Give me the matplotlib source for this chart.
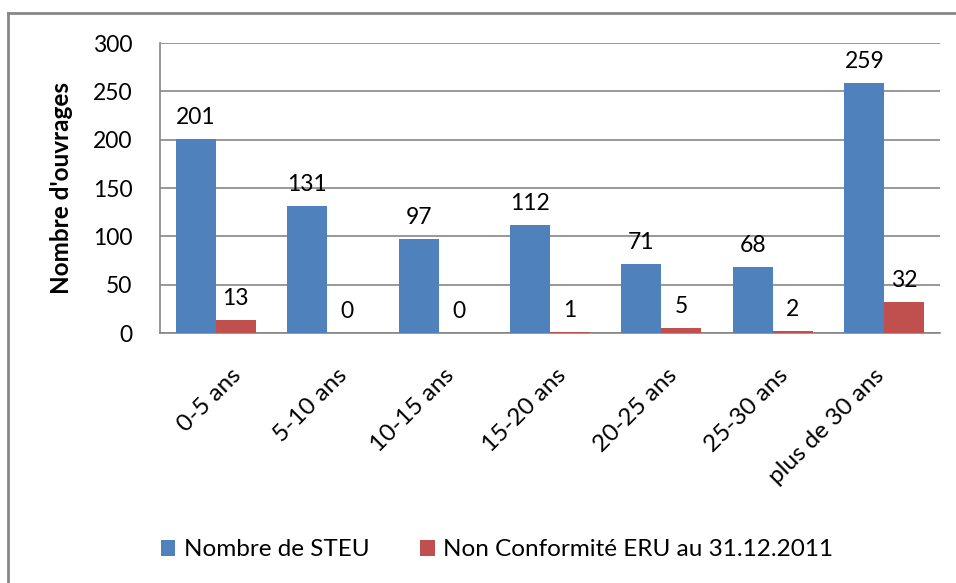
import matplotlib.pyplot as plt
import matplotlib.transforms as mtransforms
from matplotlib.lines import Line2D
from matplotlib.textpath import TextPath
from matplotlib.font_manager import FontProperties
import numpy as np

# --------------------------
# DATA
# --------------------------
categories = ["0-5 ans", "5-10 ans", "10-15 ans", "15-20 ans",
              "20-25 ans", "25-30 ans", "plus de 30 ans"]
nb_steu = [201, 131, 97, 112, 71, 68, 259]
non_conformite = [13, 0, 0, 1, 5, 2, 32]

series_names = ["Nombre de STEU", "Non Conformité ERU au 31.12.2011"]
y_ticks = [0, 50, 100, 150, 200, 250, 300]

BLUE = "#4F81BD"
RED = "#C0504D"
GRID = "#868686"
FONT = "Lato"
DPI = 100

plt.rcParams["font.family"] = [FONT, "DejaVu Sans"]

fig = plt.figure(figsize=(9.56, 5.83), dpi=DPI)
ax = fig.add_axes([0.1674, 0.4288, 0.8159, 0.4974])

x = np.arange(len(categories))
w = 0.359
bars1 = ax.bar(x - w / 2, nb_steu, w, color=BLUE, label=series_names[0], zorder=3)
bars2 = ax.bar(x + w / 2, non_conformite, w, color=RED, label=series_names[1], zorder=3)

# value labels above each bar
for bars in (bars1, bars2):
    for b in bars:
        h = b.get_height()
        ax.annotate(f"{int(h)}", (b.get_x() + b.get_width() / 2, h),
                    xytext=(0, 8), textcoords="offset points",
                    ha="center", va="bottom", fontsize=16.5)

ax.set_xlim(-0.5, len(categories) - 0.5)
ax.set_ylim(0, 300)
ax.set_yticks(y_ticks)
ax.tick_params(axis="y", length=0, pad=20, labelsize=16.5)
ax.yaxis.grid(True, color=GRID, linewidth=1.2, zorder=0)
ax.set_axisbelow(True)

# rotated category labels, shifted left as they get longer
CAT_FS = 17.5
ax.set_xticks(x)
ax.set_xticklabels([])
ax.tick_params(axis="x", length=0)
fp = FontProperties(family=FONT, size=CAT_FS)
for xi, lab in zip(x, categories):
    L = TextPath((0, 0), lab, prop=fp).get_extents().width * DPI / 72
    dx = 42 - 0.354 * L
    off = mtransforms.ScaledTranslation(dx / DPI, -32 / DPI, fig.dpi_scale_trans)
    ax.text(xi, 0, lab, rotation=45, ha="right", va="top", rotation_mode="anchor",
            fontsize=CAT_FS, transform=ax.get_xaxis_transform() + off)

for side in ("top", "right"):
    ax.spines[side].set_visible(False)
for side in ("left", "bottom"):
    ax.spines[side].set_color(GRID)
    ax.spines[side].set_linewidth(1.2)

ax.set_ylabel("Nombre d'ouvrages", fontsize=17.5, fontweight="bold", labelpad=14)

fig.legend(loc="center", bbox_to_anchor=(0.52, 1 - 550 / 583), ncol=2,
           frameon=False, fontsize=17.5, handlelength=0.6, handleheight=0.6,
           handletextpad=0.35, columnspacing=2.1)

# outer chart frame (only top and left edges are within the image)
fig.add_artist(Line2D([8 / 956, 8 / 956], [0, 1 - 13 / 583],
                      transform=fig.transFigure, color=GRID, linewidth=2))
fig.add_artist(Line2D([8 / 956, 1], [1 - 13 / 583, 1 - 13 / 583],
                      transform=fig.transFigure, color=GRID, linewidth=2))

fig.savefig("out.png", dpi=DPI)
